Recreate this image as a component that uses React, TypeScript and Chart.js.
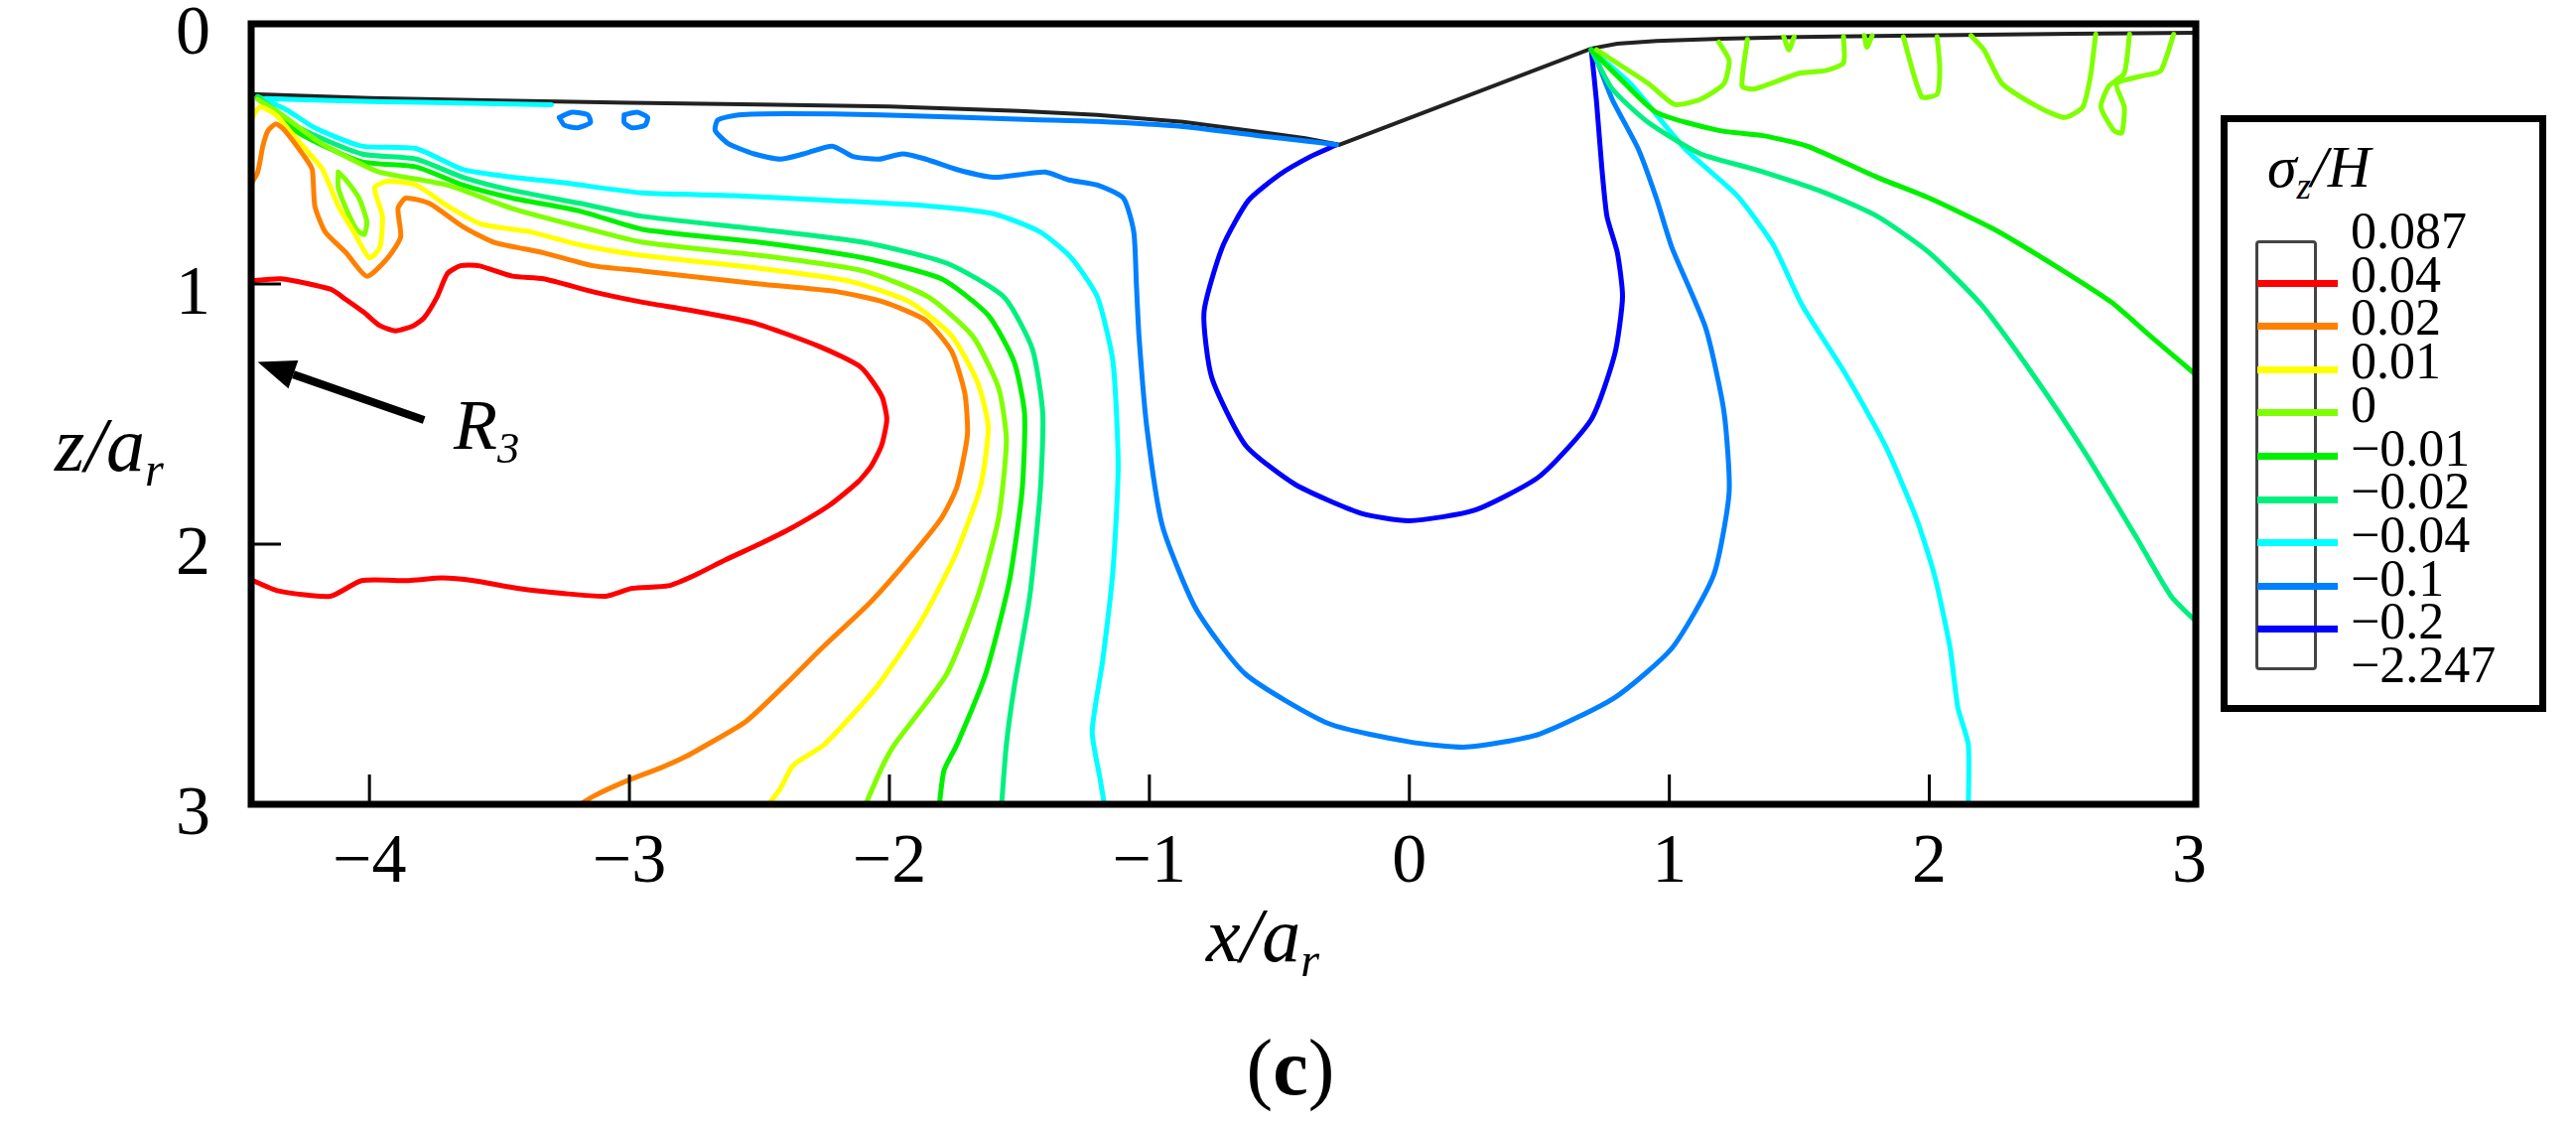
import React, { useEffect, useRef } from 'react';
import { Chart, registerables } from 'chart.js';

Chart.register(...registerables);

// ---------- axes ----------
const X_MIN = -4.455;
const X_MAX = 3.025;
const Z_MIN = 0;
const Z_MAX = 3;
const xTickValues = [-4, -3, -2, -1, 0, 1, 2, 3];
const zTickValues = [0, 1, 2, 3];

// ---------- legend ----------
const legendLabels = ['0.087', '0.04', '0.02', '0.01', '0', '\u22120.01', '\u22120.02', '\u22120.04', '\u22120.1', '\u22120.2', '\u22122.247'];
const legendLineColors = ['#ff0000', '#ff8000', '#ffff00', '#80ff00', '#00f000', '#00f080', '#00ffff', '#0080ff', '#0000ff'];

// ---------- annotation (R3 arrow), data coords ----------
const arrowTip = [-4.43, 1.3];
const arrowTail = [-3.79, 1.523];

// ---------- indentation surface ----------
const surfaceLine = [[-4.46, 0.27], [-4.0, 0.285], [-3.5, 0.295], [-3.0, 0.303], [-2.5, 0.31], [-2.0, 0.318], [-1.5, 0.335], [-1.2, 0.35], [-0.87, 0.377], [-0.58, 0.415], [-0.4, 0.44], [-0.27, 0.465], [0.7, 0.095], [0.8, 0.076], [0.95, 0.066], [1.2, 0.057], [1.5, 0.051], [1.87, 0.046], [2.2, 0.042], [2.55, 0.038], [3.04, 0.034]];

// ---------- contour levels ----------
const red004 = [[-4.47, 0.99], [-4.34, 0.98], [-4.15, 1.02], [-4.09, 1.06], [-4.02, 1.11], [-3.96, 1.16], [-3.9, 1.18], [-3.83, 1.16], [-3.79, 1.13], [-3.74, 1.05], [-3.7, 0.96], [-3.65, 0.93], [-3.58, 0.93], [-3.45, 0.97], [-3.33, 0.98], [-3.14, 1.03], [-2.95, 1.07], [-2.77, 1.1], [-2.52, 1.15], [-2.27, 1.24], [-2.11, 1.32], [-2.03, 1.43], [-2.01, 1.52], [-2.03, 1.62], [-2.07, 1.7], [-2.12, 1.76], [-2.23, 1.85], [-2.38, 1.94], [-2.5, 2.0], [-2.63, 2.06], [-2.75, 2.12], [-2.85, 2.16], [-2.99, 2.17], [-3.09, 2.2], [-3.25, 2.19], [-3.43, 2.17], [-3.6, 2.14], [-3.72, 2.13], [-3.85, 2.14], [-4.03, 2.14], [-4.15, 2.2], [-4.35, 2.18], [-4.47, 2.13]];

const orange002 = [[-4.47, 0.64], [-4.43, 0.57], [-4.41, 0.47], [-4.39, 0.41], [-4.36, 0.385], [-4.33, 0.405], [-4.25, 0.51], [-4.22, 0.56], [-4.21, 0.7], [-4.17, 0.8], [-4.09, 0.88], [-4.01, 0.97], [-3.93, 0.9], [-3.88, 0.82], [-3.89, 0.71], [-3.86, 0.67], [-3.77, 0.69], [-3.64, 0.78], [-3.52, 0.84], [-3.33, 0.88], [-3.14, 0.93], [-2.95, 0.95], [-2.5, 1.0], [-2.2, 1.03], [-2.02, 1.07], [-1.86, 1.14], [-1.76, 1.26], [-1.71, 1.42], [-1.7, 1.58], [-1.74, 1.78], [-1.8, 1.9], [-1.92, 2.05], [-2.07, 2.22], [-2.26, 2.4], [-2.38, 2.52], [-2.55, 2.68], [-2.7, 2.77], [-2.79, 2.82], [-2.88, 2.86], [-3.01, 2.91], [-3.14, 2.97], [-3.22, 3.02]];

const yellow001 = [[-4.47, 0.46], [-4.45, 0.36], [-4.42, 0.32], [-4.36, 0.35], [-4.3, 0.42], [-4.23, 0.5], [-4.18, 0.56], [-4.12, 0.7], [-4.06, 0.8], [-4.0, 0.9], [-3.96, 0.86], [-3.95, 0.74], [-3.98, 0.63], [-3.93, 0.605], [-3.82, 0.62], [-3.7, 0.7], [-3.57, 0.77], [-3.38, 0.8], [-3.19, 0.85], [-2.95, 0.89], [-2.5, 0.94], [-2.15, 0.99], [-1.92, 1.07], [-1.76, 1.2], [-1.66, 1.38], [-1.62, 1.55], [-1.65, 1.78], [-1.75, 2.05], [-1.88, 2.3], [-2.05, 2.55], [-2.25, 2.77], [-2.37, 2.85], [-2.42, 2.94], [-2.48, 3.02]];

const lime000 = [[-4.43, 0.29], [-4.35, 0.34], [-4.2, 0.45], [-4.09, 0.51], [-3.96, 0.57], [-3.7, 0.62], [-3.45, 0.71], [-3.19, 0.78], [-2.95, 0.84], [-2.5, 0.89], [-2.1, 0.95], [-1.85, 1.05], [-1.68, 1.2], [-1.58, 1.4], [-1.55, 1.6], [-1.58, 1.9], [-1.66, 2.2], [-1.78, 2.5], [-1.98, 2.77], [-2.03, 2.86], [-2.1, 3.02]];
const lime000Loop = [[-4.12, 0.57], [-4.09, 0.6], [-4.04, 0.67], [-4.01, 0.76], [-4.02, 0.81], [-4.05, 0.79], [-4.09, 0.71], [-4.12, 0.63], [-4.12, 0.57]];
const lime000TopA = [[0.72, 0.1], [0.92, 0.23], [1.02, 0.31], [1.12, 0.29], [1.21, 0.23], [1.23, 0.14], [1.19, 0.07]];
const lime000TopB = [[1.3, 0.06], [1.28, 0.24], [1.33, 0.25], [1.5, 0.19], [1.6, 0.18], [1.67, 0.15], [1.67, 0.05]];
const lime000TopC = [[1.44, 0.05], [1.46, 0.1], [1.48, 0.05]];
const lime000TopD = [[1.75, 0.045], [1.76, 0.09], [1.78, 0.045]];
const lime000TopE = [[1.9, 0.05], [1.97, 0.28], [2.03, 0.27], [2.04, 0.17], [2.03, 0.05]];
const lime000TopF = [[2.16, 0.045], [2.21, 0.1], [2.28, 0.23], [2.42, 0.32], [2.52, 0.36], [2.59, 0.32], [2.62, 0.2], [2.64, 0.04]];
const lime000TopG = [[2.77, 0.04], [2.75, 0.19], [2.69, 0.24], [2.66, 0.32], [2.71, 0.41], [2.74, 0.42], [2.75, 0.32], [2.72, 0.23], [2.82, 0.2], [2.89, 0.18], [2.94, 0.04]];

const green_001 = [[-4.43, 0.285], [-4.27, 0.42], [-4.03, 0.53], [-3.82, 0.55], [-3.64, 0.62], [-3.45, 0.67], [-3.19, 0.72], [-2.95, 0.79], [-2.5, 0.84], [-2.1, 0.9], [-1.8, 0.98], [-1.62, 1.12], [-1.52, 1.3], [-1.48, 1.5], [-1.49, 1.8], [-1.54, 2.15], [-1.63, 2.5], [-1.74, 2.77], [-1.79, 2.87], [-1.81, 3.02]];
const green_001Right = [[0.7, 0.1], [0.8, 0.2], [0.95, 0.34], [1.19, 0.41], [1.36, 0.43], [1.53, 0.47], [1.8, 0.59], [2.0, 0.67], [2.25, 0.79], [2.5, 0.94], [2.7, 1.07], [2.85, 1.2], [3.05, 1.37]];

const spring_002 = [[-4.43, 0.28], [-4.27, 0.4], [-4.03, 0.5], [-3.82, 0.52], [-3.64, 0.59], [-3.45, 0.64], [-3.19, 0.69], [-2.95, 0.74], [-2.5, 0.79], [-2.1, 0.84], [-1.78, 0.92], [-1.56, 1.05], [-1.45, 1.25], [-1.41, 1.5], [-1.42, 1.8], [-1.46, 2.2], [-1.52, 2.55], [-1.55, 2.77], [-1.57, 3.02]];
const spring_002Right = [[0.7, 0.1], [0.78, 0.25], [0.92, 0.38], [1.12, 0.5], [1.33, 0.56], [1.6, 0.65], [1.8, 0.74], [2.0, 0.88], [2.2, 1.08], [2.4, 1.35], [2.6, 1.65], [2.8, 1.98], [2.93, 2.2], [3.05, 2.32]];

const cyan_004 = [[-4.43, 0.28], [-4.32, 0.33], [-4.21, 0.4], [-4.03, 0.47], [-3.82, 0.48], [-3.64, 0.56], [-3.45, 0.59], [-3.26, 0.61], [-2.95, 0.65], [-2.6, 0.66], [-2.2, 0.68], [-1.85, 0.7], [-1.6, 0.73], [-1.42, 0.8], [-1.3, 0.9], [-1.2, 1.05], [-1.14, 1.3], [-1.12, 1.7], [-1.14, 2.1], [-1.18, 2.45], [-1.22, 2.72], [-1.19, 2.9], [-1.17, 3.02]];
const cyan_004Surface = [[-4.4, 0.287], [-4.1, 0.296], [-3.8, 0.302], [-3.5, 0.307], [-3.3, 0.311]];
const cyan_004Right = [[0.7, 0.1], [0.85, 0.23], [1.06, 0.48], [1.26, 0.66], [1.4, 0.85], [1.51, 1.08], [1.68, 1.35], [1.83, 1.62], [1.95, 1.9], [2.02, 2.12], [2.08, 2.4], [2.11, 2.63], [2.15, 2.77], [2.15, 3.02]];

const blue_01 = [[-0.28, 0.465], [-0.4, 0.45], [-0.58, 0.43], [-0.87, 0.395], [-1.2, 0.375], [-1.45, 0.368], [-2.03, 0.35], [-2.4, 0.345], [-2.58, 0.35], [-2.66, 0.37], [-2.67, 0.41], [-2.62, 0.46], [-2.52, 0.5], [-2.42, 0.52], [-2.33, 0.5], [-2.22, 0.47], [-2.14, 0.51], [-2.04, 0.52], [-1.95, 0.5], [-1.86, 0.52], [-1.74, 0.56], [-1.6, 0.59], [-1.5, 0.58], [-1.4, 0.57], [-1.31, 0.6], [-1.2, 0.62], [-1.1, 0.67], [-1.06, 0.8], [-1.05, 1.0], [-1.04, 1.2], [-1.01, 1.55], [-0.95, 1.93], [-0.82, 2.25], [-0.63, 2.5], [-0.31, 2.69], [0.0, 2.76], [0.22, 2.78], [0.5, 2.73], [0.79, 2.59], [1.01, 2.4], [1.17, 2.12], [1.23, 1.8], [1.21, 1.49], [1.14, 1.17], [1.01, 0.86], [0.95, 0.67], [0.88, 0.48], [0.78, 0.29], [0.71, 0.11]];
const blue_01LoopA = [[-3.27, 0.36], [-3.22, 0.34], [-3.16, 0.35], [-3.15, 0.38], [-3.2, 0.4], [-3.25, 0.39], [-3.27, 0.36]];
const blue_01LoopB = [[-3.02, 0.35], [-2.97, 0.34], [-2.93, 0.36], [-2.94, 0.39], [-2.99, 0.4], [-3.02, 0.38], [-3.02, 0.35]];

const navy_02 = [[-0.28, 0.465], [-0.38, 0.51], [-0.5, 0.58], [-0.62, 0.68], [-0.72, 0.86], [-0.79, 1.11], [-0.76, 1.36], [-0.63, 1.62], [-0.44, 1.77], [-0.19, 1.88], [0.0, 1.91], [0.25, 1.87], [0.5, 1.74], [0.7, 1.52], [0.79, 1.27], [0.82, 1.05], [0.8, 0.88], [0.76, 0.74], [0.74, 0.55], [0.72, 0.3], [0.7, 0.1]];

const contourList: [number[][], string][] = [
  [red004, '#ff0000'],
  [orange002, '#ff8000'],
  [yellow001, '#ffff00'],
  [lime000, '#80ff00'], [lime000Loop, '#80ff00'], [lime000TopA, '#80ff00'], [lime000TopB, '#80ff00'],
  [lime000TopC, '#80ff00'], [lime000TopD, '#80ff00'], [lime000TopE, '#80ff00'], [lime000TopF, '#80ff00'], [lime000TopG, '#80ff00'],
  [green_001, '#00f000'], [green_001Right, '#00f000'],
  [spring_002, '#00f080'], [spring_002Right, '#00f080'],
  [cyan_004, '#00ffff'], [cyan_004Surface, '#00ffff'], [cyan_004Right, '#00ffff'],
  [blue_01, '#0080ff'], [blue_01LoopA, '#0080ff'], [blue_01LoopB, '#0080ff'],
  [navy_02, '#0000ff'],
];

const fmt = (v: number) => (v < 0 ? '\u2212' + Math.abs(v) : String(v));
const SERIF = "'Liberation Serif', 'Times New Roman', serif";

const framePlugin = {
  id: 'frameTicks',
  afterDatasetsDraw(chart: any) {
    const { ctx, chartArea: a, scales } = chart;
    ctx.save();
    ctx.strokeStyle = '#000';
    ctx.lineWidth = 3;
    ctx.beginPath();
    xTickValues.forEach((v) => {
      if (v <= X_MIN || v >= X_MAX - 0.1) return;
      const px = scales.x.getPixelForValue(v);
      ctx.moveTo(px, a.bottom);
      ctx.lineTo(px, a.bottom - 30);
    });
    zTickValues.forEach((v) => {
      if (v <= Z_MIN || v >= Z_MAX) return;
      const py = scales.y.getPixelForValue(v);
      ctx.moveTo(a.left, py);
      ctx.lineTo(a.left + 30, py);
    });
    ctx.stroke();
    ctx.lineWidth = 7;
    ctx.strokeRect(a.left, a.top, a.right - a.left, a.bottom - a.top);

    // R3 arrow
    const tx = scales.x.getPixelForValue(arrowTip[0]);
    const ty = scales.y.getPixelForValue(arrowTip[1]);
    const sx = scales.x.getPixelForValue(arrowTail[0]);
    const sy = scales.y.getPixelForValue(arrowTail[1]);
    const ang = Math.atan2(ty - sy, tx - sx);
    const headLen = 38;
    const headHalf = 15;
    const bx = tx - headLen * Math.cos(ang);
    const by = ty - headLen * Math.sin(ang);
    ctx.lineWidth = 8;
    ctx.lineCap = 'butt';
    ctx.beginPath();
    ctx.moveTo(sx, sy);
    ctx.lineTo(bx, by);
    ctx.stroke();
    ctx.fillStyle = '#000';
    ctx.beginPath();
    ctx.moveTo(tx, ty);
    ctx.lineTo(bx + headHalf * Math.sin(ang), by - headHalf * Math.cos(ang));
    ctx.lineTo(bx - headHalf * Math.sin(ang), by + headHalf * Math.cos(ang));
    ctx.closePath();
    ctx.fill();
    ctx.restore();
  },
};

export default function App() {
  const canvasRef = useRef<HTMLCanvasElement | null>(null);

  useEffect(() => {
    const canvas = canvasRef.current;
    if (!canvas) return;
    const toPts = (arr: number[][]) => arr.map(([x, z]) => ({ x, y: z }));
    const datasets: any[] = contourList.map(([pts, color]) => ({
      data: toPts(pts),
      showLine: true,
      borderColor: color,
      backgroundColor: color,
      borderWidth: 5,
      pointRadius: 0,
      tension: 0.2,
      fill: false,
      borderCapStyle: 'round',
      borderJoinStyle: 'round',
    }));
    datasets.push({
      data: toPts(surfaceLine),
      showLine: true,
      borderColor: '#222222',
      backgroundColor: '#222222',
      borderWidth: 4,
      pointRadius: 0,
      tension: 0,
      fill: false,
    });

    const chart = new Chart(canvas, {
      type: 'scatter',
      data: { datasets },
      options: {
        animation: false,
        responsive: false,
        devicePixelRatio: 1,
        events: [],
        layout: { padding: { left: 0, top: 24, right: 383, bottom: 224 } },
        plugins: { legend: { display: false }, tooltip: { enabled: false } },
        scales: {
          x: {
            type: 'linear',
            min: X_MIN,
            max: X_MAX,
            grid: { display: false },
            border: { display: false },
            afterBuildTicks: (s: any) => {
              s.ticks = xTickValues.map((v) => ({ value: v }));
            },
            afterFit: (s: any) => {
              s.height = 100;
              s.paddingLeft = 0;
              s.paddingRight = 0;
            },
            ticks: {
              autoSkip: false,
              maxRotation: 0,
              minRotation: 0,
              padding: 10,
              color: '#000',
              font: { family: SERIF, size: 70 },
              callback: (v: any) => fmt(Number(v)),
            },
          },
          y: {
            type: 'linear',
            reverse: true,
            min: Z_MIN,
            max: Z_MAX,
            grid: { display: false },
            border: { display: false },
            afterBuildTicks: (s: any) => {
              s.ticks = zTickValues.map((v) => ({ value: v }));
            },
            afterFit: (s: any) => {
              s.width = 253;
              s.paddingTop = 0;
              s.paddingBottom = 0;
            },
            ticks: {
              autoSkip: false,
              padding: 33,
              labelOffset: 12,
              color: '#000',
              font: { family: SERIF, size: 70 },
              callback: (v: any) => fmt(Number(v)),
            },
          },
        },
      } as any,
      plugins: [framePlugin as any],
    });
    return () => chart.destroy();
  }, []);

  const abs = (extra: React.CSSProperties): React.CSSProperties => ({
    position: 'absolute',
    whiteSpace: 'nowrap',
    lineHeight: 1,
    ...extra,
  });
  const sub: React.CSSProperties = { fontSize: '0.62em', position: 'relative', top: '0.32em', lineHeight: 0 };

  return (
    <div
      style={{
        position: 'absolute',
        left: 0,
        top: 0,
        width: 2595,
        height: 1134,
        overflow: 'hidden',
        background: '#fff',
        fontFamily: SERIF,
        color: '#000',
      }}
    >
      <canvas ref={canvasRef} width={2595} height={1134} style={{ display: 'block', width: 2595, height: 1134 }} />

      {/* axis titles */}
      <div style={abs({ left: 110, top: 448, transform: 'translate(-50%,-50%)', fontSize: 78, fontStyle: 'italic' })}>
        z/a<span style={sub}>r</span>
      </div>
      <div style={abs({ left: 1272, top: 942, transform: 'translate(-50%,-50%)', fontSize: 78, fontStyle: 'italic' })}>
        x/a<span style={sub}>r</span>
      </div>

      {/* R3 annotation */}
      <div style={abs({ left: 457, top: 392, fontSize: 72, fontStyle: 'italic' })}>
        R<span style={{ ...sub, fontStyle: 'italic' }}>3</span>
      </div>

      {/* panel label */}
      <div style={abs({ left: 1300, top: 1075, transform: 'translate(-50%,-50%)', fontSize: 80 })}>
        (<span style={{ fontWeight: 'bold' }}>c</span>)
      </div>

      {/* legend */}
      <div
        style={{
          position: 'absolute',
          left: 2237,
          top: 116,
          width: 328,
          height: 601,
          border: '7px solid #000',
          boxSizing: 'border-box',
          background: '#fff',
        }}
      />
      <div style={abs({ left: 2336, top: 168, transform: 'translate(-50%,-50%)', fontSize: 60, fontStyle: 'italic' })}>
        σ<span style={sub}>z</span>/H
      </div>
      <div
        style={{
          position: 'absolute',
          left: 2272,
          top: 242,
          width: 62,
          height: 433,
          border: '3px solid #444',
          borderRadius: 4,
          boxSizing: 'border-box',
        }}
      />
      {legendLineColors.map((c, i) => (
        <div
          key={'l' + i}
          style={{ position: 'absolute', left: 2274, top: 285 + i * 43.6 - 3.5, width: 81, height: 7, background: c }}
        />
      ))}
      {legendLabels.map((t, i) => (
        <div key={'t' + i} style={abs({ left: 2368, top: 233 + i * 43.7, transform: 'translateY(-50%)', fontSize: 52 })}>
          {t}
        </div>
      ))}
    </div>
  );
}
